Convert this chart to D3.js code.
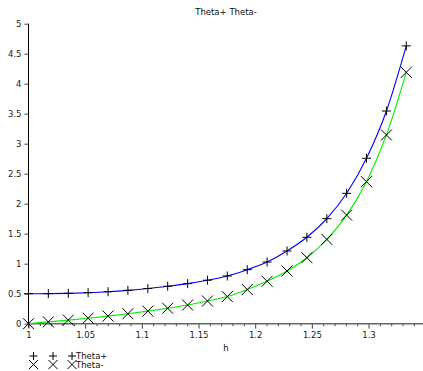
<!DOCTYPE html>
<html>
<head>
<meta charset="utf-8">
<script src="https://cdn.jsdelivr.net/npm/d3@7"></script>
<style>
  body { margin: 0; background: #fff; }
  svg { display: block; font-family: "DejaVu Sans", sans-serif; }
</style>
</head>
<body>
<div id="chart"></div>
<script>
// h samples (20 points from 1 to 4/3)
const hValues = [1.0000, 1.0175, 1.0351, 1.0526, 1.0702, 1.0877, 1.1053, 1.1228, 1.1404, 1.1579,
                 1.1754, 1.1930, 1.2105, 1.2281, 1.2456, 1.2632, 1.2807, 1.2982, 1.3158, 1.3333]
const thetaPlus = [0.500, 0.501, 0.506, 0.517, 0.533, 0.556, 0.586, 0.624, 0.668, 0.725,
                   0.795, 0.900, 1.028, 1.212, 1.440, 1.750, 2.173, 2.757, 3.545, 4.630]
const thetaMinus = [0.000, 0.030, 0.060, 0.092, 0.127, 0.166, 0.210, 0.258, 0.312, 0.378,
                    0.452, 0.570, 0.707, 0.878, 1.100, 1.405, 1.810, 2.367, 3.145, 4.190]
const yTicks = [0, 0.5, 1, 1.5, 2, 2.5, 3, 3.5, 4, 4.5, 5]
const xMajorTicks = [1, 1.05, 1.1, 1.15, 1.2, 1.25, 1.3]
const title = "Theta+ Theta-"
const xLabel = "h"
const seriesNames = ["Theta+", "Theta-"]

const width = 423, height = 371

const svg = d3.select("#chart").append("svg")
    .attr("width", width)
    .attr("height", height)

const xScale = d3.scaleLinear().domain([1, 1.35]).range([28.5, 425.2])
const yScale = d3.scaleLinear().domain([0, 5]).range([323.7, 23.7])

// title
svg.append("text")
    .attr("x", 226).attr("y", 15)
    .attr("text-anchor", "middle")
    .attr("font-size", 8.5)
    .attr("fill", "#111")
    .text(title)

// y axis
const yAxis = d3.axisLeft(yScale).tickValues(yTicks).tickSize(4).tickPadding(3)
    .tickFormat(d3.format("~g"))
const yAxisG = svg.append("g")
    .attr("transform", `translate(${xScale(1)},0)`)
    .call(yAxis)
yAxisG.select(".domain").remove()
yAxisG.append("line")
    .attr("y1", yScale(5)).attr("y2", yScale(0) + 4)
    .attr("stroke", "#000")
yAxisG.selectAll(".tick line").attr("stroke", "#333")
yAxisG.selectAll(".tick text").attr("font-size", 8.5).attr("fill", "#222")
    .attr("font-family", "DejaVu Sans, sans-serif")

// x axis: minor ticks every 0.01, majors labelled
const minorTicks = d3.range(0, 35).map(i => 1 + i * 0.01)
    .filter(v => !xMajorTicks.some(m => Math.abs(m - v) < 1e-6))
const xMinor = d3.axisBottom(xScale).tickValues(minorTicks).tickSize(2.5).tickFormat("")
const xMajor = d3.axisBottom(xScale).tickValues(xMajorTicks).tickSize(5).tickPadding(3)
    .tickFormat(d3.format("~g"))
const xAxisY = yScale(0)
const xMinorG = svg.append("g").attr("transform", `translate(0,${xAxisY})`).call(xMinor)
const xMajorG = svg.append("g").attr("transform", `translate(0,${xAxisY})`).call(xMajor)
xMinorG.select(".domain").remove()
xMajorG.select(".domain").remove()
svg.append("line")
    .attr("x1", xScale(1) - 1).attr("x2", width)
    .attr("y1", xAxisY).attr("y2", xAxisY)
    .attr("stroke", "#666").attr("stroke-width", 1.6)
svg.selectAll(".tick line").attr("stroke", "#444")
xMajorG.selectAll(".tick text").attr("font-size", 8.5).attr("fill", "#222")
    .attr("font-family", "DejaVu Sans, sans-serif")

svg.append("text")
    .attr("x", 226).attr("y", 351)
    .attr("text-anchor", "middle")
    .attr("font-size", 8.5)
    .attr("fill", "#111")
    .text(xLabel)

// curves
const line = d3.line()
    .x((d, i) => xScale(hValues[i]))
    .y(d => yScale(d))
    .curve(d3.curveMonotoneX)

svg.append("path").datum(thetaPlus)
    .attr("d", line).attr("fill", "none").attr("stroke", "#0000ff").attr("stroke-width", 1.1)
svg.append("path").datum(thetaMinus)
    .attr("d", line).attr("fill", "none").attr("stroke", "#00ee00").attr("stroke-width", 1.1)

// markers
function plusPath(s) { return `M${-s},0H${s}M0,${-s}V${s}` }
function crossPath(s) { return `M${-s},${-s}L${s},${s}M${-s},${s}L${s},${-s}` }

svg.append("g").selectAll("path").data(thetaPlus).join("path")
    .attr("transform", (d, i) => `translate(${xScale(hValues[i])},${yScale(d)})`)
    .attr("d", plusPath(4.5))
    .attr("stroke", "#000").attr("stroke-width", 1).attr("fill", "none")

svg.append("g").selectAll("path").data(thetaMinus).join("path")
    .attr("transform", (d, i) => `translate(${xScale(hValues[i])},${yScale(d)})`)
    .attr("d", crossPath(5.5))
    .attr("stroke", "#000").attr("stroke-width", 1).attr("fill", "none")

// legend
const legendX = [33.5, 53, 72]
const legend = svg.append("g")
legend.selectAll(".lp").data(legendX).join("path")
    .attr("transform", d => `translate(${d},356)`)
    .attr("d", plusPath(4))
    .attr("stroke", "#000").attr("fill", "none")
legend.selectAll(".lx").data(legendX).join("path")
    .attr("transform", d => `translate(${d},364.5)`)
    .attr("d", crossPath(4.5))
    .attr("stroke", "#000").attr("fill", "none")
legend.append("text").attr("x", 76).attr("y", 359).attr("font-size", 8.5)
    .attr("fill", "#111").text(seriesNames[0])
legend.append("text").attr("x", 76).attr("y", 368).attr("font-size", 8.5)
    .attr("fill", "#111").text(seriesNames[1])
</script>
</body>
</html>
